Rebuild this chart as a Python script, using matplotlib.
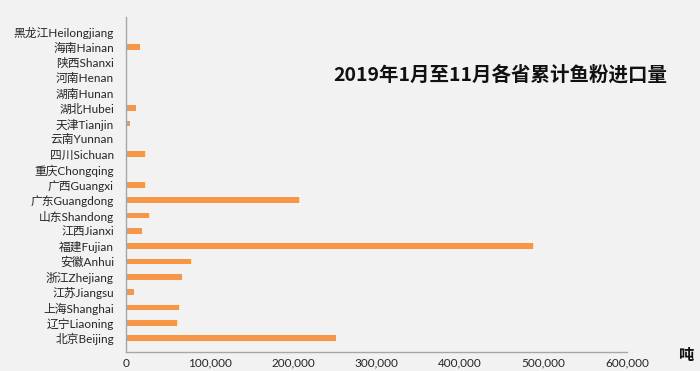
import matplotlib
matplotlib.use("Agg")
import matplotlib.pyplot as plt
from matplotlib.ticker import FuncFormatter

plt.rcParams["font.family"] = ["Lato", "Noto Sans CJK SC", "DejaVu Sans"]

# bottom to top, as drawn
provinces = ["北京Beijing", "辽宁Liaoning", "上海Shanghai", "江苏Jiangsu", "浙江Zhejiang",
             "安徽Anhui", "福建Fujian", "江西Jianxi", "山东Shandong", "广东Guangdong",
             "广西Guangxi", "重庆Chongqing", "四川Sichuan", "云南Yunnan", "天津Tianjin",
             "湖北Hubei", "湖南Hunan", "河南Henan", "陕西Shanxi", "海南Hainan",
             "黑龙江Heilongjiang"]
imports = [251000, 61000, 62500, 8600, 66000,
           77600, 487000, 18500, 26600, 206600,
           21800, 800, 22000, 500, 4000,
           11000, 800, 0, 0, 16500,
           0]
xticks = [0, 100000, 200000, 300000, 400000, 500000, 600000]
title = "2019年1月至11月各省累计鱼粉进口量"
unit = "吨"

bg = "#f2f2f2"
fig = plt.figure(figsize=(7, 3.71), dpi=100, facecolor=bg)
ax = fig.add_axes([0.1807, 0.0512, 0.715, 0.9028], facecolor=bg)

y = list(range(len(provinces)))
ax.barh(y, imports, height=0.37, color="#f79646")
ax.set_yticks(y)
ax.set_yticklabels(provinces, fontsize=8.5, color="#262626")
ax.set_ylim(-0.9, len(provinces) - 0.05)
ax.set_xlim(0, 600000)
ax.set_xticks(xticks)
ax.xaxis.set_major_formatter(FuncFormatter(lambda v, p: f"{int(v):,}"))
for lab in ax.get_xticklabels():
    lab.set_fontsize(8.5)
    lab.set_color("#262626")
ax.tick_params(axis="both", length=0)
ax.tick_params(axis="y", pad=9)
ax.tick_params(axis="x", pad=4)

for s in ("top", "right"):
    ax.spines[s].set_visible(False)
for s in ("left", "bottom"):
    ax.spines[s].set_color("#a6a6a6")
    ax.spines[s].set_linewidth(1.0)

fig.text(333 / 700, 1 - 75 / 371, title, fontsize=14, fontweight="bold",
         ha="left", va="center", color="#111111",
         family=["Noto Sans CJK SC", "DejaVu Sans"])
fig.text(686 / 700, 1 - 355 / 371, unit, fontsize=11, fontweight="bold",
         ha="center", va="center", color="#111111",
         family=["Noto Sans CJK SC", "DejaVu Sans"])

fig.savefig("out.png", dpi=100, facecolor=bg)
